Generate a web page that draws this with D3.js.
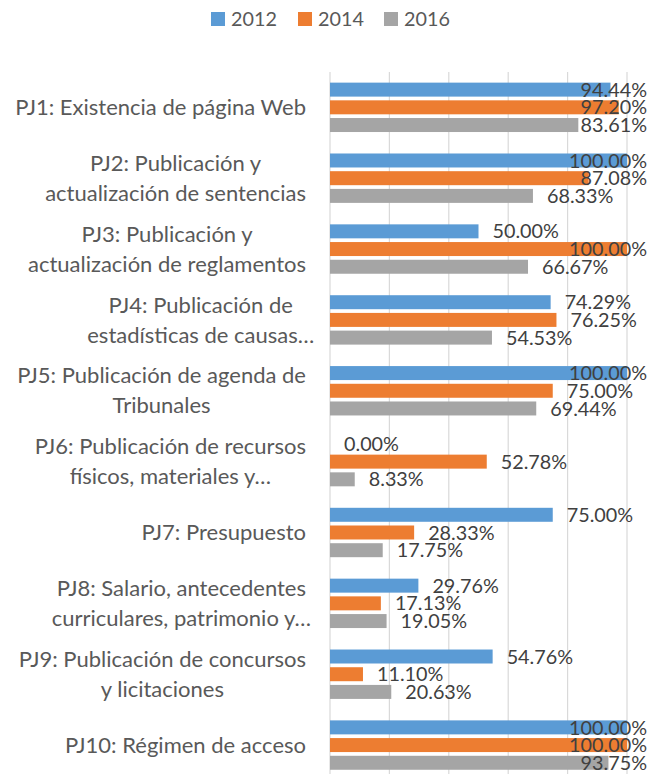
<!DOCTYPE html>
<html>
<head>
<meta charset="utf-8">
<script src="https://cdn.jsdelivr.net/npm/d3@7.9.0/dist/d3.min.js"></script>
<style>
  body { margin: 0; background: #fff; }
  svg { display: block; font-family: Lato, "Open Sans", sans-serif; }
</style>
</head>
<body>
<svg id="chart" width="660" height="774"></svg>
<script>
// categories (wrapped the way the source chart shows them)
const categories = [
  ['PJ1: Existencia de página Web'],
  ['PJ2: Publicación y', 'actualización de sentencias'],
  ['PJ3: Publicación y', 'actualización de reglamentos'],
  ['PJ4: Publicación de', 'estadísticas de causas…'],
  ['PJ5: Publicación de agenda de', 'Tribunales'],
  ['PJ6: Publicación de recursos', 'físicos, materiales y…'],
  ['PJ7: Presupuesto'],
  ['PJ8: Salario, antecedentes', 'curriculares, patrimonio y…'],
  ['PJ9: Publicación de concursos', 'y licitaciones'],
  ['PJ10: Régimen de acceso']
];
const seriesNames = ['2012', '2014', '2016'];
const values2012 = [94.44, 100.00, 50.00, 74.29, 100.00, 0.00, 75.00, 29.76, 54.76, 100.00];
const values2014 = [97.20, 87.08, 100.00, 76.25, 75.00, 52.78, 28.33, 17.13, 11.10, 100.00];
const values2016 = [83.61, 68.33, 66.67, 54.53, 69.44, 8.33, 17.75, 19.05, 20.63, 93.75];
const gridTicks = [0, 20, 40, 60, 80, 100];

const colors = { '2012': '#5B9BD5', '2014': '#ED7D31', '2016': '#A5A5A5' };
const seriesValues = { '2012': values2012, '2014': values2014, '2016': values2016 };

const svg = d3.select('#chart');
const plot = { left: 330, right: 627, top: 72, bottom: 780.4 };
const labelRight = 306;
const valueRight = 647;

const x = d3.scaleLinear().domain([0, 100]).range([plot.left, plot.right]);
const y0 = d3.scaleBand().domain(d3.range(categories.length))
  .range([plot.top, plot.bottom]).paddingInner(0.303).paddingOuter(0.15);
const y1 = d3.scaleBand().domain(seriesNames)
  .range([0, y0.bandwidth()]).paddingInner(0.21).paddingOuter(0);

// gridlines
svg.append('g').selectAll('line').data(gridTicks).join('line')
  .attr('x1', d => x(d)).attr('x2', d => x(d))
  .attr('y1', plot.top).attr('y2', 774)
  .attr('stroke', '#d9d9d9').attr('stroke-width', 1.2);

// rows
const rows = categories.map((c, i) => ({ i, lines: c }));
const groups = svg.append('g').selectAll('g').data(rows).join('g')
  .attr('transform', d => `translate(0,${y0(d.i)})`);

groups.selectAll('rect').data(d => seriesNames.map(s => ({ s, v: seriesValues[s][d.i] })))
  .join('rect')
  .attr('x', x(0))
  .attr('y', d => y1(d.s))
  .attr('width', d => x(d.v) - x(0))
  .attr('height', y1.bandwidth())
  .attr('fill', d => colors[d.s]);

// value labels: outside end, pushed back inside the chart if they overflow
groups.selectAll('text.val').data(d => seriesNames.map(s => ({ s, v: seriesValues[s][d.i] })))
  .join('text')
  .attr('class', 'val')
  .attr('y', d => y1(d.s) + y1.bandwidth() / 2)
  .attr('dy', '0.36em')
  .attr('font-size', 19.8)
  .attr('fill', '#404040')
  .text(d => d.v.toFixed(2) + '%')
  .each(function (d) {
    const w = this.getComputedTextLength();
    d3.select(this).attr('x', Math.min(x(d.v) + 14, valueRight - w));
  });

// category labels: lines centred on each other, block right-aligned
const lineH = 30;
groups.each(function (d) {
  const g = d3.select(this);
  const cy = y0.bandwidth() / 2;
  const n = d.lines.length;
  const texts = d.lines.map((ln, k) => g.append('text')
    .attr('font-size', 22)
    .attr('fill', '#595959')
    .attr('text-anchor', 'middle')
    .attr('y', cy + (k - (n - 1) / 2) * lineH)
    .attr('dy', '0.35em')
    .text(ln));
  const widths = texts.map(t => {
    const full = t.node().getComputedTextLength();
    if (t.text().endsWith('…')) return full - t.node().getSubStringLength(t.text().length - 1, 1);
    return full;
  });
  const cx = labelRight - d3.max(widths) / 2;
  texts.forEach(t => t.attr('x', cx));
});

// legend
const legendX = [211, 298, 384];
const legend = svg.append('g').selectAll('g').data(seriesNames).join('g')
  .attr('transform', (d, i) => `translate(${legendX[i]},12)`);
legend.append('rect').attr('width', 14).attr('height', 14).attr('fill', d => colors[d]);
legend.append('text').attr('x', 20).attr('y', 7).attr('dy', '0.36em')
  .attr('font-size', 19.8).attr('fill', '#595959').text(d => d);
</script>
</body>
</html>
